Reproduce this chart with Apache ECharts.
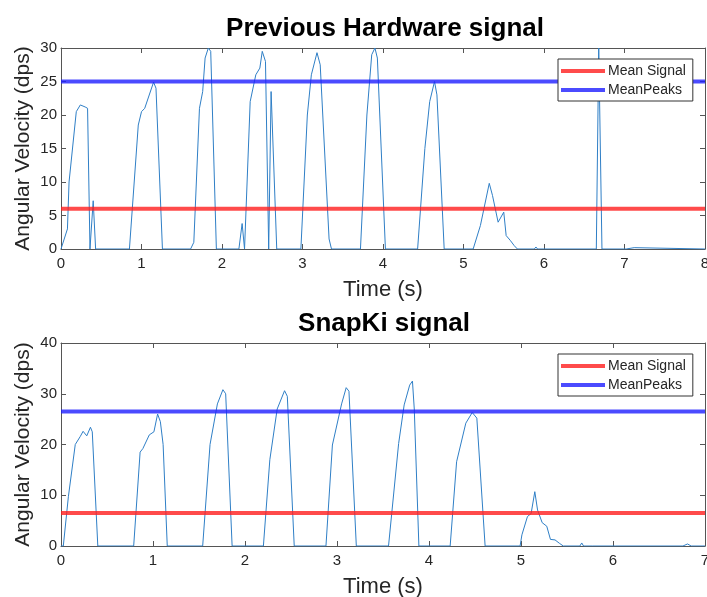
<!DOCTYPE html>
<html>
<head>
<meta charset="utf-8">
<script src="https://cdn.jsdelivr.net/npm/echarts@6/dist/echarts.min.js"></script>
<style>
  html, body { margin: 0; padding: 0; background: #fff; }
  #chart { width: 707px; height: 597px; }
</style>
</head>
<body>
<div id="chart"></div>
<script>
// Previous Hardware signal (time in s, angular velocity in dps)
const hwTime = [0, 0.08, 0.10, 0.19, 0.24, 0.30, 0.33, 0.36, 0.40, 0.43,
  0.85, 0.96, 1.00, 1.04, 1.15, 1.18, 1.26,
  1.61, 1.65, 1.72, 1.76, 1.79, 1.83, 1.86, 1.93,
  2.21, 2.25, 2.28, 2.35, 2.42, 2.47, 2.50, 2.54, 2.58, 2.61, 2.68,
  2.98, 3.06, 3.11, 3.18, 3.22, 3.33, 3.36,
  3.72, 3.80, 3.86, 3.90, 3.93, 4.03,
  4.43, 4.52, 4.58, 4.64, 4.67, 4.76,
  5.12, 5.21, 5.32, 5.36, 5.43, 5.50, 5.53, 5.58, 5.63, 5.67,
  5.88, 5.90, 5.92, 6.65, 6.68, 6.72, 7.02, 7.04, 7.12, 7.14, 8];
const hwVal = [0, 3, 10, 20.5, 21.5, 21.2, 21.0, 0, 7.2, 0,
  0, 18.5, 20.5, 21, 24.9, 24, 0,
  0, 1, 21, 23.5, 28.5, 30, 29.5, 0,
  0, 3.8, 0, 22, 26, 27, 29.5, 28, 0, 23.5, 0,
  0, 20, 26, 29.3, 27.5, 1.5, 0,
  0, 20, 29, 30, 28.5, 0,
  0, 15, 22, 25, 23, 0,
  0, 3.5, 9.8, 8, 4, 5.5, 2, 1.3, 0.5, 0,
  0, 0.3, 0, 0, 30, 0, 0, 0.2, 0.2, 0, 0];
const hwMeanSignal = 6.0;
const hwMeanPeaks = 25.0;

// SnapKi signal
const skTime = [0, 0.025, 0.08, 0.155, 0.21, 0.24, 0.28, 0.32, 0.34, 0.40,
  0.79, 0.86, 0.89, 0.96, 1.01, 1.05, 1.08, 1.11, 1.155,
  1.54, 1.62, 1.70, 1.76, 1.79, 1.86,
  2.20, 2.27, 2.35, 2.43, 2.46, 2.535,
  2.88, 2.95, 3.05, 3.10, 3.13, 3.21,
  3.56, 3.67, 3.73, 3.79, 3.82, 3.84, 3.89,
  4.23, 4.30, 4.40, 4.47, 4.52, 4.61,
  4.99, 5.01, 5.07, 5.11, 5.15, 5.18, 5.23, 5.28, 5.32, 5.37, 5.42, 5.46,
  5.64, 5.66, 5.68, 5.78, 5.79, 5.80, 6.03, 6.04, 6.05, 6.76, 6.81, 6.85, 7];
const skVal = [0, 0, 9.7, 20, 21.6, 22.6, 21.7, 23.4, 22.5, 0,
  0, 18.5, 19.2, 21.9, 22.5, 26, 24.5, 20, 0,
  0, 20, 28, 30.8, 30, 0,
  0, 17, 27, 30.6, 29.5, 0,
  0, 19.9, 28, 31.2, 30.5, 0,
  0, 20.2, 27.8, 31.7, 32.5, 27, 0,
  0, 16.6, 24.2, 26.3, 25.2, 0,
  0, 2.2, 5.8, 6.4, 10.7, 7.1, 4.6, 3.9, 1.3, 1.2, 0.5, 0,
  0, 0.6, 0, 0, 0.2, 0, 0, 0.15, 0, 0, 0.4, 0, 0];
const skMeanSignal = 6.5;
const skMeanPeaks = 26.5;

const textColor = '#262626';
const axisColor = '#555';
const fontFamily = 'Liberation Sans, Arial, sans-serif';

function pairs(ts, vs) {
  return ts.map((t, i) => [t, vs[i]]);
}

function bottomX(gridIndex, max) {
  return {
    type: 'value', gridIndex: gridIndex, min: 0, max: max, interval: 1,
    name: 'Time (s)', nameLocation: 'middle', nameGap: 30,
    nameTextStyle: { color: textColor, fontSize: 22, fontFamily: fontFamily },
    axisLine: { show: true, onZero: false, lineStyle: { color: axisColor } },
    axisTick: { show: true, inside: true, length: 5, lineStyle: { color: axisColor } },
    axisLabel: { color: textColor, fontSize: 15, fontFamily: fontFamily, margin: 7 },
    splitLine: { show: false }
  };
}
function topX(gridIndex, max) {
  return {
    type: 'value', gridIndex: gridIndex, position: 'top', min: 0, max: max, interval: 1,
    axisLine: { show: true, onZero: false, lineStyle: { color: axisColor } },
    axisTick: { show: true, inside: true, length: 5, lineStyle: { color: axisColor } },
    axisLabel: { show: false }, splitLine: { show: false }
  };
}
function leftY(gridIndex, max, step) {
  return {
    type: 'value', gridIndex: gridIndex, min: 0, max: max, interval: step,
    name: 'Angular Velocity (dps)', nameLocation: 'middle', nameGap: 27, nameMoveOverlap: false,
    nameTextStyle: { color: textColor, fontSize: 21, fontFamily: fontFamily },
    axisLine: { show: true, onZero: false, lineStyle: { color: axisColor } },
    axisTick: { show: true, inside: true, length: 5, lineStyle: { color: axisColor } },
    axisLabel: { color: textColor, fontSize: 15, fontFamily: fontFamily, margin: 4 },
    splitLine: { show: false }
  };
}
function rightY(gridIndex, max, step) {
  return {
    type: 'value', gridIndex: gridIndex, position: 'right', min: 0, max: max, interval: step,
    axisLine: { show: true, onZero: false, lineStyle: { color: axisColor } },
    axisTick: { show: true, inside: true, length: 5, lineStyle: { color: axisColor } },
    axisLabel: { show: false }, splitLine: { show: false }
  };
}
function meanLine(name, axisIdx, value, xmax, color) {
  return {
    name: name, type: 'line', xAxisIndex: axisIdx, yAxisIndex: axisIdx,
    data: [[0, value], [xmax, value]], symbol: 'none', silent: true, z: 3,
    lineStyle: { color: color, width: 4 }, itemStyle: { color: color }
  };
}
function legendAt(top) {
  return {
    orient: 'vertical', left: 558, top: top, data: ['Mean Signal', 'MeanPeaks'],
    backgroundColor: '#fff', borderColor: '#333', borderWidth: 1, borderRadius: 0,
    padding: [5, 7, 4, 3], itemGap: 5, itemWidth: 44, itemHeight: 4, icon: 'rect',
    textStyle: { color: textColor, fontSize: 14, fontFamily: fontFamily, padding: [0, 0, 0, -2] },
    z: 10
  };
}

const signalColor = '#2f7fc6';
const redColor = 'rgba(255,30,30,0.8)';
const blueColor = 'rgba(30,30,255,0.8)';

const chart = echarts.init(document.getElementById('chart'), null, { renderer: 'canvas' });
chart.setOption({
  animation: false,
  backgroundColor: '#fff',
  title: [
    { text: 'Previous Hardware signal', left: 380, top: 11, textAlign: 'center',
      textStyle: { fontSize: 26, fontWeight: 'bold', color: '#000', fontFamily: fontFamily } },
    { text: 'SnapKi signal', left: 379, top: 306, textAlign: 'center',
      textStyle: { fontSize: 26, fontWeight: 'bold', color: '#000', fontFamily: fontFamily } }
  ],
  grid: [
    { left: 61, right: 2, top: 48, height: 201, outerBoundsMode: 'none', containLabel: false },
    { left: 61, right: 2, top: 343, height: 203, outerBoundsMode: 'none', containLabel: false }
  ],
  xAxis: [bottomX(0, 8), topX(0, 8), bottomX(1, 7), topX(1, 7)],
  yAxis: [leftY(0, 30, 5), rightY(0, 30, 5), leftY(1, 40, 10), rightY(1, 40, 10)],
  legend: [legendAt(59), legendAt(354)],
  series: [
    { name: 'hw', type: 'line', xAxisIndex: 0, yAxisIndex: 0, data: pairs(hwTime, hwVal),
      symbol: 'none', lineStyle: { color: signalColor, width: 1 }, z: 2, silent: true },
    meanLine('Mean Signal', 0, hwMeanSignal, 8, redColor),
    meanLine('MeanPeaks', 0, hwMeanPeaks, 8, blueColor),
    { name: 'sk', type: 'line', xAxisIndex: 2, yAxisIndex: 2, data: pairs(skTime, skVal),
      symbol: 'none', lineStyle: { color: signalColor, width: 1 }, z: 2, silent: true },
    meanLine('Mean Signal', 2, skMeanSignal, 7, redColor),
    meanLine('MeanPeaks', 2, skMeanPeaks, 7, blueColor)
  ]
});
</script>
</body>
</html>
